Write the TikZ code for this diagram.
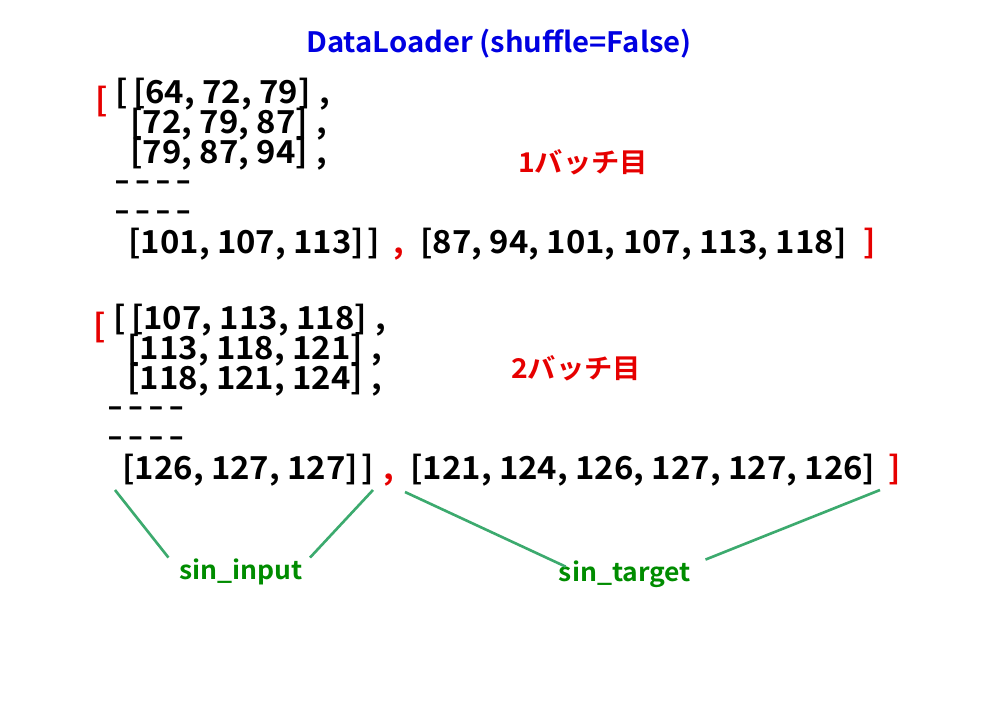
\documentclass[tikz,border=0pt]{standalone}
\usepackage{fontspec}
\setmainfont{Noto Sans CJK JP}[UprightFont=*, BoldFont=* Bold, FakeStretch=1.04]
\newfontfamily\dashfont{Noto Sans CJK JP}[UprightFont=* Bold, FakeBold=2.5]
\usepackage{tikz}
\usetikzlibrary{positioning}
\definecolor{myred}{RGB}{230,0,0}
\definecolor{myblue}{RGB}{0,0,225}
\definecolor{mygreen}{RGB}{0,140,0}
\definecolor{linegreen}{RGB}{60,170,110}
\newcommand{\dashrow}{–\kern4pt–\kern4pt–\kern4pt–}

\begin{document}
\begin{tikzpicture}[x=0.02cm,y=-0.02cm,
txt/.style={anchor=base west,inner sep=0pt,text height=12pt,text depth=2pt,font=\bfseries\fontsize{18}{18}\selectfont},
dashes/.style={txt,text height=6pt,text depth=0pt,font=\dashfont\fontsize{14}{14}\selectfont},
link/.style={draw=linegreen,line width=1.5pt}]
\useasboundingbox (0,0) rectangle (1000,700);

% title
\node[txt,anchor=base,color=myblue,font=\bfseries\fontsize{16}{16}\selectfont](title) at (499,52){DataLoader (shuffle=False)};

% 1st batch
\node[txt](a1) at (115,103){[\kern3pt[64, 72, 79]\kern5pt,};
\node[txt,anchor=base east,color=myred,left=4pt of a1.base west](ao){[};
\node[txt](a2) at (130,133){[72, 79, 87]\kern5pt,};
\node[txt](a3) at (130,163){[79, 87, 94]\kern5pt,};
\node[dashes](a4) at (115,189){\dashrow};
\node[dashes](a5) at (115,219){\dashrow};
\node[txt](a6) at (128,253){[101, 107, 113]\kern2pt]};
\node[txt,color=myred,right=7pt of a6.base east,anchor=base west](ac){,};
\node[txt](at) at (420,253){[87, 94, 101, 107, 113, 118]};
\node[txt,color=myred,right=9pt of at.base east,anchor=base west](ae){]};
\node[txt,anchor=base,color=myred,font=\bfseries\fontsize{15.5}{15.5}\selectfont](b1) at (583,172){1バッチ目};

% 2nd batch
\node[txt](c1) at (113,329){[\kern3pt[107, 113, 118]\kern5pt,};
\node[txt,anchor=base east,color=myred,left=4pt of c1.base west](co){[};
\node[txt](c2) at (127,359){[113, 118, 121]\kern5pt,};
\node[txt](c3) at (127,389){[118, 121, 124]\kern5pt,};
\node[dashes](c4) at (108,415){\dashrow};
\node[dashes](c5) at (108,445){\dashrow};
\node[txt](c6) at (122,479){[126, 127, 127]\kern2pt]};
\node[txt,color=myred,right=5pt of c6.base east,anchor=base west](cc){,};
\node[txt](ct) at (410,479){[121, 124, 126, 127, 127, 126]};
\node[txt,color=myred,right=7pt of ct.base east,anchor=base west](ce){]};
\node[txt,anchor=base,color=myred,font=\bfseries\fontsize{15.5}{15.5}\selectfont](b2) at (576,378){2バッチ目};

% labels
\node[txt,anchor=base,color=mygreen,font=\bfseries\fontsize{14.5}{14.5}\selectfont](inp) at (241,579){sin\_input};
\node[txt,anchor=base,color=mygreen,font=\bfseries\fontsize{14.5}{14.5}\selectfont](tgt) at (625,581){sin\_target};

\coordinate (p1) at (115,490);
\coordinate (p2) at (373,490);
\coordinate (p3) at (405,492);
\coordinate (p4) at (880,490);
\draw[link] (p1) -- ([xshift=-6pt]inp.north west);
\draw[link] (p2) -- ([xshift=4pt]inp.north east);
\draw[link] (p3) -- ([xshift=4pt,yshift=-4pt]tgt.north west);
\draw[link] (p4) -- ([xshift=8pt]tgt.north east);
\end{tikzpicture}
\end{document}
